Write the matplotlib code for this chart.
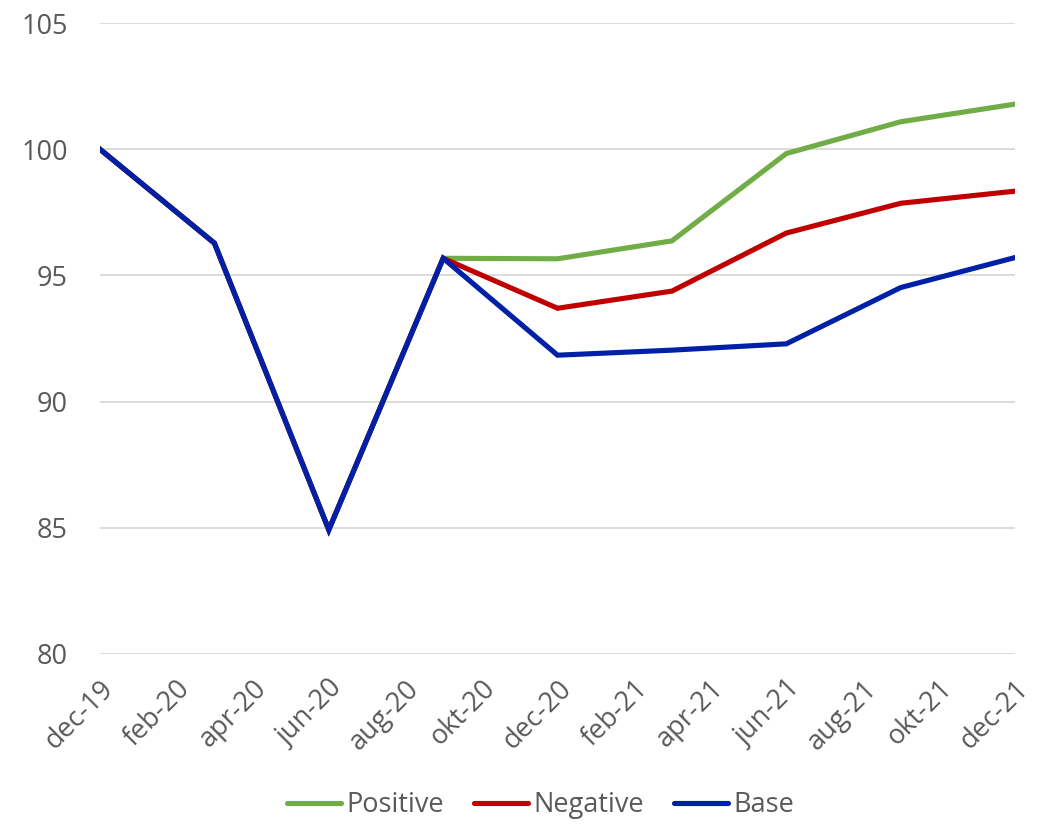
import matplotlib
matplotlib.use("Agg")
import matplotlib.pyplot as plt

# Quarterly observations (month offset from dec-19)
months = [0, 3, 6, 9, 12, 15, 18, 21, 24]
positive = [100, 96.28, 84.92, 95.68, 95.66, 96.37, 99.83, 101.09, 101.79]
negative = [100, 96.28, 84.92, 95.68, 93.70, 94.38, 96.68, 97.86, 98.34]
base = [100, 96.28, 84.92, 95.68, 91.84, 92.04, 92.29, 94.52, 95.71]

tick_months = list(range(0, 25, 2))
tick_labels = ["dec-19", "feb-20", "apr-20", "jun-20", "aug-20", "okt-20", "dec-20",
               "feb-21", "apr-21", "jun-21", "aug-21", "okt-21", "dec-21"]

plt.rcParams["font.family"] = ["Open Sans", "DejaVu Sans"]
text_color = "#595959"
fs = 19.5

fig = plt.figure(figsize=(10.4, 8.25), dpi=100)
ax = fig.add_axes([0.0962, 0.2073, 0.8798, 0.7647])

lw = 3.7
ax.plot(months, positive, color="#70AD47", lw=lw, label="Positive", solid_joinstyle="miter")
ax.plot(months, negative, color="#C00000", lw=lw, label="Negative", solid_joinstyle="miter")
ax.plot(months, base, color="#0020A8", lw=lw, label="Base", solid_joinstyle="miter")

ax.set_xlim(0, 24)
ax.set_ylim(80, 105)
ax.set_yticks([80, 85, 90, 95, 100, 105])
ax.set_xticks(tick_months)
ax.set_xticklabels(tick_labels, rotation=45, ha="right", va="top",
                   rotation_mode="anchor")
ax.tick_params(axis="both", length=0, labelsize=fs, colors=text_color)
ax.tick_params(axis="y", pad=23)
ax.tick_params(axis="x", pad=15)

ax.grid(axis="y", color="#D9D9D9", lw=1.3)
ax.set_axisbelow(True)
for s in ax.spines.values():
    s.set_visible(False)

leg = fig.legend(loc="center", bbox_to_anchor=(0.52, 0.024), ncol=3, frameon=False,
                 fontsize=fs, handlelength=2.0, columnspacing=1.1, handletextpad=0.2)
for t in leg.get_texts():
    t.set_color(text_color)
for h in leg.get_lines():
    h.set_solid_capstyle("round")

fig.savefig("out.png", dpi=100)
